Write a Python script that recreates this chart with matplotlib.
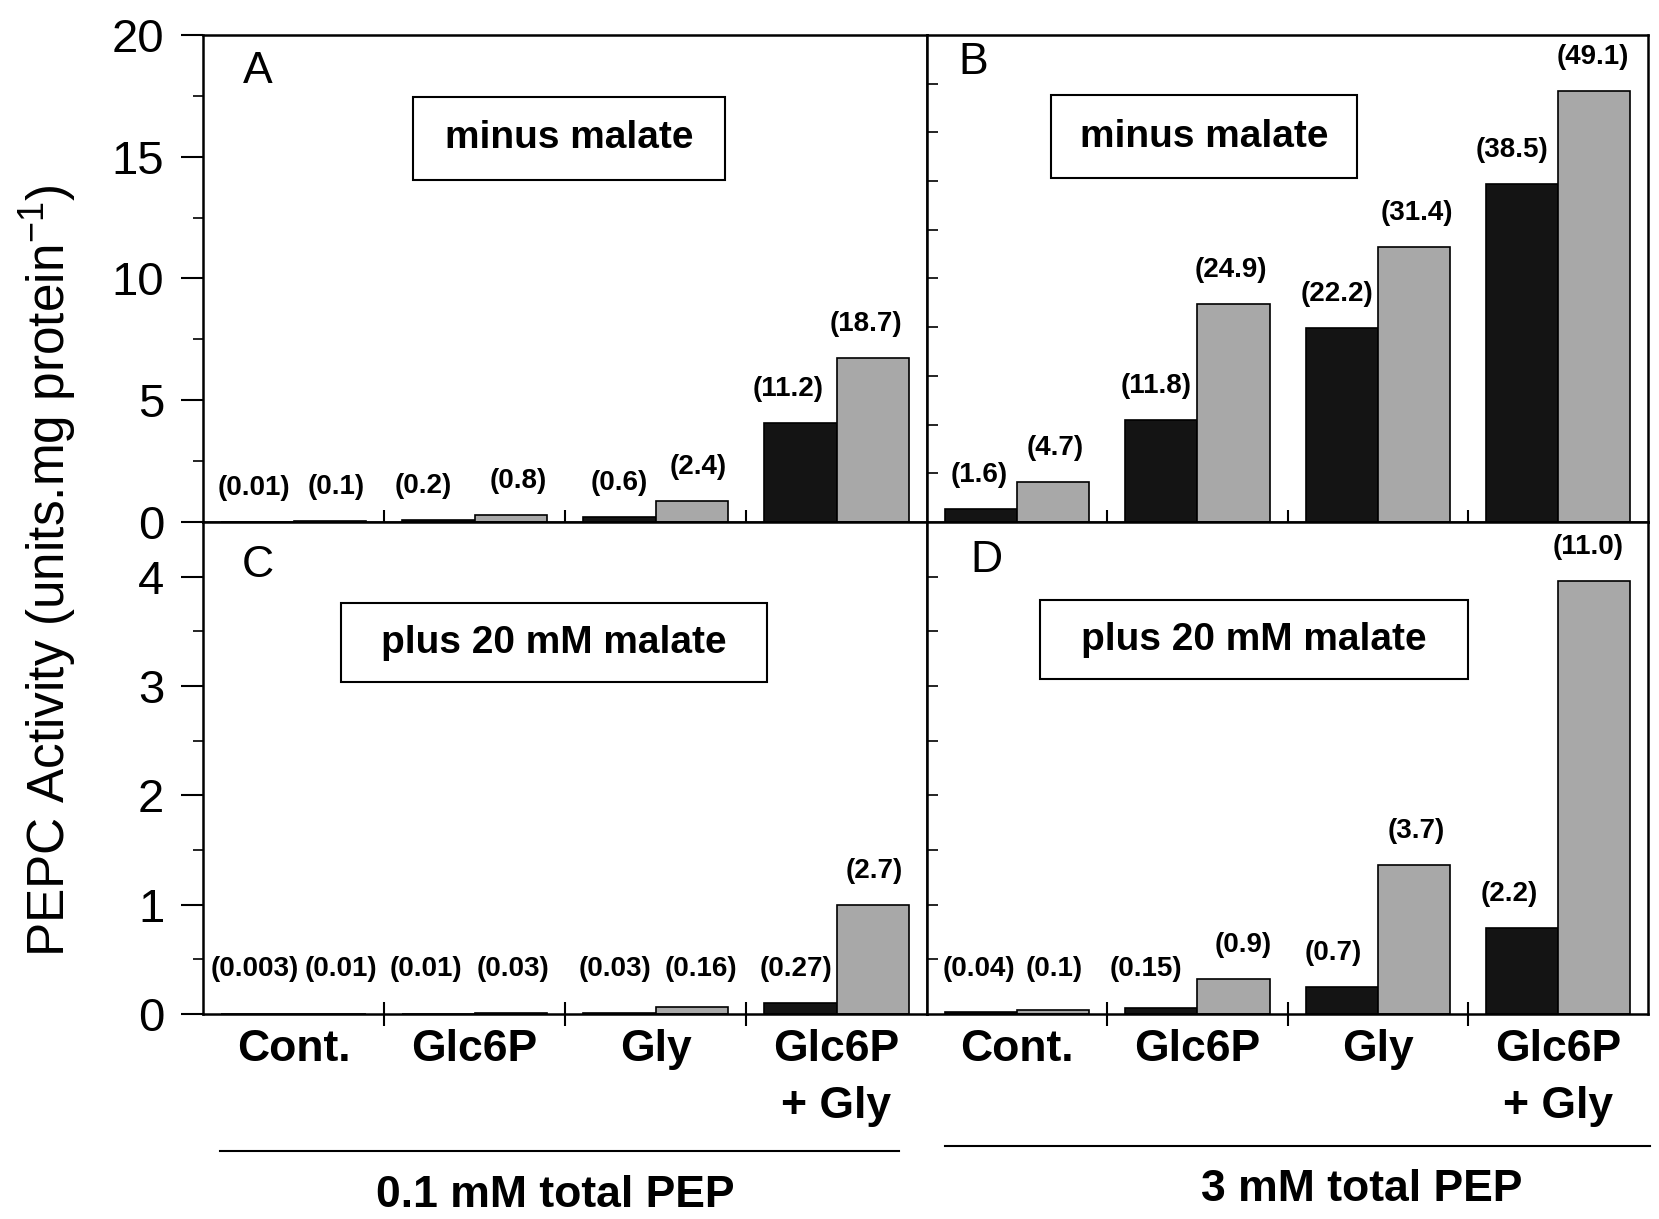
import numpy as np
import matplotlib
matplotlib.use("Agg")
import matplotlib.pyplot as plt
from matplotlib.patches import Rectangle
from matplotlib.lines import Line2D
from matplotlib.ticker import MultipleLocator

plt.rcParams['font.family'] = ['Liberation Sans', 'DejaVu Sans']
plt.rcParams['mathtext.fontset'] = 'custom'
plt.rcParams['mathtext.rm'] = 'Liberation Sans'
plt.rcParams['mathtext.it'] = 'Liberation Sans:italic'
plt.rcParams['mathtext.bf'] = 'Liberation Sans:bold'

# data (bar heights, labels as printed)
treatments = ["Cont.", "Glc6P", "Gly", "Glc6P\n+ Gly"]

A_black = [0.004, 0.07, 0.22, 4.05]
A_gray = [0.036, 0.29, 0.87, 6.75]
A_black_lab = ["(0.01)", "(0.2)", "(0.6)", "(11.2)"]
A_gray_lab = ["(0.1)", "(0.8)", "(2.4)", "(18.7)"]

B_black = [0.55, 4.2, 7.95, 13.9]
B_gray = [1.65, 8.95, 11.3, 17.7]
B_black_lab = ["(1.6)", "(11.8)", "(22.2)", "(38.5)"]
B_gray_lab = ["(4.7)", "(24.9)", "(31.4)", "(49.1)"]

C_black = [0.001, 0.004, 0.011, 0.10]
C_gray = [0.004, 0.011, 0.06, 1.0]
C_black_lab = ["(0.003)", "(0.01)", "(0.03)", "(0.27)"]
C_gray_lab = ["(0.01)", "(0.03)", "(0.16)", "(2.7)"]

D_black = [0.015, 0.055, 0.25, 0.79]
D_gray = [0.036, 0.32, 1.36, 3.96]
D_black_lab = ["(0.04)", "(0.15)", "(0.7)", "(2.2)"]
D_gray_lab = ["(0.1)", "(0.9)", "(3.7)", "(11.0)"]

# layout (figure fractions)
L, M, R = 0.1224, 0.5588, 0.9934
TOP, MID, BOT = 0.9713, 0.5718, 0.1682

fig = plt.figure(figsize=(16.59, 12.19), dpi=100)
axA = fig.add_axes([L, MID, M - L, TOP - MID])
axB = fig.add_axes([M, MID, R - M, TOP - MID])
axC = fig.add_axes([L, BOT, M - L, MID - BOT])
axD = fig.add_axes([M, BOT, R - M, MID - BOT])

BLACK = '#141414'
GRAY = '#a8a8a8'
PX = 72 / 100  # pixels -> points

idx = np.arange(4)

panels = [
    (axA, A_black, A_gray, A_black_lab, A_gray_lab, 20, "A", "minus malate", 0.0,
     [-3, -15, 0, -12], [6, 7, 6, -7]),
    (axB, B_black, B_gray, B_black_lab, B_gray_lab, 20, "B", "minus malate", 0.0,
     [-2, -5, -5, -10], [2, -3, 3, -1]),
    (axC, C_black, C_gray, C_black_lab, C_gray_lab, 4.5, "C", "plus 20 mM malate", 0.1,
     [-3, -12, -4, -4], [11, 2, 9, 1]),
    (axD, D_black, D_gray, D_black_lab, D_gray_lab, 4.5, "D", "plus 20 mM malate", 0.1,
     [-2, -15, -8, -13], [1, 10, 3, -6]),
]

letter_pos = {"A": (0.075, 0.924), "B": (0.064, 0.943), "C": (0.075, 0.911), "D": (0.082, 0.921)}
box_pos = {"A": (0.290, 0.702, 0.431, 0.171), "B": (0.172, 0.706, 0.424, 0.171),
           "C": (0.191, 0.675, 0.588, 0.160), "D": (0.157, 0.681, 0.593, 0.160)}

for ax, blk, gry, blab, glab, ymax, letter, boxtxt, floor, bnud, gnud in panels:
    ax.bar(idx + 0.3, blk, width=0.4, color=BLACK, edgecolor='black', linewidth=1.2)
    ax.bar(idx + 0.7, gry, width=0.4, color=GRAY, edgecolor='black', linewidth=1.2)
    ax.set_xlim(0, 4)
    ax.set_ylim(0, ymax)

    for i in range(4):
        for xc, h, lab, nud in ((idx[i] + 0.3, blk[i], blab[i], bnud[i]),
                                (idx[i] + 0.7, gry[i], glab[i], gnud[i])):
            ax.annotate(lab, (xc, max(h, floor)), xytext=(nud * PX, 34 * PX),
                        textcoords='offset points', ha='center', va='center',
                        fontsize=20, fontweight='bold', annotation_clip=False)

    lx, ly = letter_pos[letter]
    ax.text(lx, ly, letter, transform=ax.transAxes, fontsize=32,
            ha='center', va='center')
    bx, by, bw, bh = box_pos[letter]
    ax.add_patch(Rectangle((bx, by), bw, bh, transform=ax.transAxes,
                           fill=False, edgecolor='black', linewidth=1.5))
    ax.text(bx + bw / 2, by + bh / 2, boxtxt, transform=ax.transAxes,
            fontsize=28, fontweight='bold', ha='center', va='center')

    for s in ax.spines.values():
        s.set_linewidth(1.8)

    # x: crossing ticks at the group boundaries, labels at group centres
    ax.set_xticks([1, 2, 3])
    ax.set_xticklabels([])
    ax.tick_params(axis='x', which='major', direction='inout', length=17, width=1.5)
    ax.set_xticks(idx + 0.5, minor=True)
    if ax in (axC, axD):
        ax.set_xticklabels(treatments, minor=True, fontsize=32, fontweight='bold')
        for t in ax.get_xticklabels(minor=True):
            t.set_linespacing(1.5)
    else:
        ax.set_xticklabels([], minor=True)
    ax.tick_params(axis='x', which='minor', length=0, pad=11)

# left y axes
axA.set_yticks([0, 5, 10, 15, 20])
axA.yaxis.set_minor_locator(MultipleLocator(2.5))
axC.set_yticks([0, 1, 2, 3, 4])
axC.yaxis.set_minor_locator(MultipleLocator(0.5))
for ax in (axA, axC):
    ax.tick_params(axis='y', which='major', direction='out', length=16, width=1.5,
                   pad=12, labelsize=34)
    ax.tick_params(axis='y', which='minor', direction='out', length=7, width=1.2)

# right y axes: small inward ticks, no labels
axB.set_yticks(np.arange(2, 20, 2))
axD.set_yticks(np.arange(0.5, 4.5, 0.5))
for ax in (axB, axD):
    ax.tick_params(axis='y', which='major', direction='in', length=8, width=1.2,
                   labelleft=False)

fig.text(0.029, 0.532, "PEPC Activity (units.mg protein$^{-1}$)", rotation=90,
         fontsize=37, ha='center', va='center')

fig.add_artist(Line2D([0.1326, 0.5419], [0.0558, 0.0558], color='black', linewidth=1.5))
fig.add_artist(Line2D([0.5696, 0.9946], [0.0599, 0.0599], color='black', linewidth=1.5))
fig.text(0.3345, 0.0189, "0.1 mM total PEP", fontsize=32, fontweight='bold',
         ha='center', va='center')
fig.text(0.821, 0.0238, "3 mM total PEP", fontsize=32, fontweight='bold',
         ha='center', va='center')

fig.savefig("out.png", dpi=100)
